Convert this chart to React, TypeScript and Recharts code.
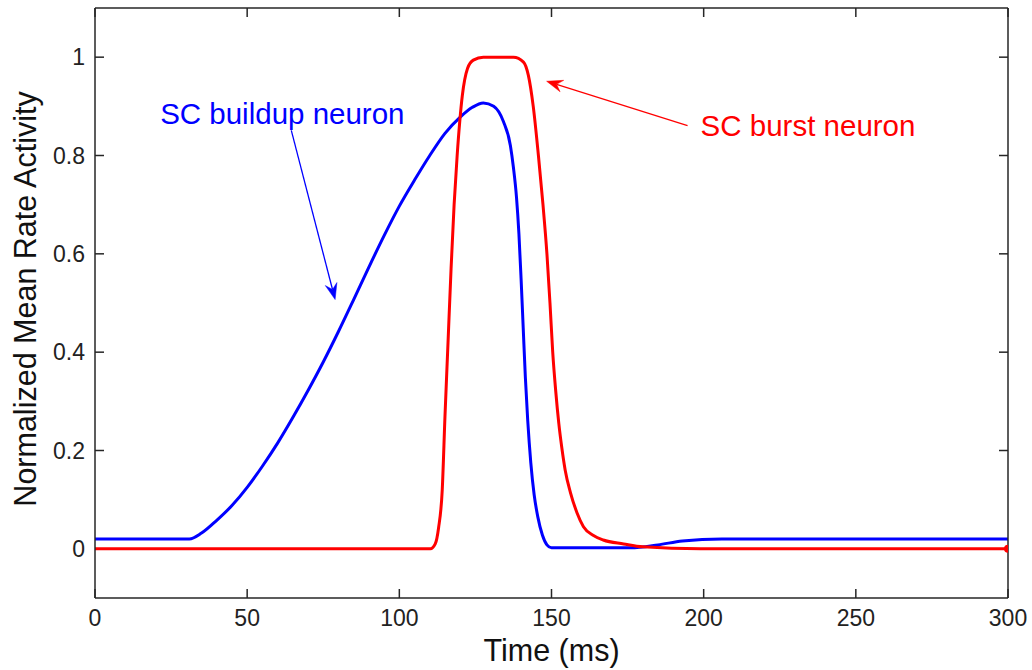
import React from 'react';
import { LineChart, Line, XAxis, YAxis, ReferenceLine, ReferenceDot } from 'recharts';

const xTicks = [0, 50, 100, 150, 200, 250, 300];
const yTicks = [0, 0.2, 0.4, 0.6, 0.8, 1];

const buildupTime = [0, 31, 35, 40, 45, 50, 55, 60, 65, 70, 75, 80, 85, 90, 95, 100, 105, 110, 115, 120, 124, 127.6, 131, 134.2, 136.5, 137.5, 138.5, 139.3, 140, 140.7, 141.4, 142.2, 143.2, 144.3, 145.5, 147, 148.5, 150, 176, 185, 193, 206, 300];
const buildupRate = [0.02, 0.02, 0.032, 0.058, 0.088, 0.125, 0.168, 0.215, 0.267, 0.322, 0.38, 0.442, 0.507, 0.573, 0.637, 0.697, 0.75, 0.8, 0.845, 0.878, 0.898, 0.907, 0.9, 0.869, 0.82, 0.775, 0.715, 0.64, 0.55, 0.45, 0.35, 0.26, 0.175, 0.11, 0.065, 0.028, 0.008, 0.002, 0.002, 0.008, 0.016, 0.02, 0.02];

const burstTime = [0, 110.2, 111.8, 112.9, 114.1, 115, 116, 117, 118, 119, 120.7, 122.4, 124.3, 127.6, 137.5, 140.8, 142.4, 144, 145.7, 147.2, 148.5, 149.5, 150.4, 151.4, 152.4, 153.4, 154.5, 156.2, 158.4, 160.5, 163.8, 167, 173.7, 180, 199, 300];
const burstRate = [0, 0, 0.01, 0.043, 0.12, 0.27, 0.42, 0.57, 0.7, 0.8, 0.922, 0.977, 0.994, 1, 1, 0.99, 0.963, 0.9, 0.8, 0.7, 0.6, 0.5, 0.4, 0.32, 0.255, 0.205, 0.16, 0.115, 0.073, 0.045, 0.027, 0.018, 0.01, 0.004, 0, 0];

const buildupLabel = { text: 'SC buildup neuron', t: 21.4, v: 0.865 };
const burstLabel = { text: 'SC burst neuron', t: 199, v: 0.84 };
const buildupArrow = [{ x: 64.5, y: 0.851 }, { x: 78.9, y: 0.507 }];
const burstArrow = [{ x: 194.7, y: 0.861 }, { x: 148.4, y: 0.951 }];

const buildupData = buildupTime.map((t, i) => ({ t, v: buildupRate[i] }));
const burstData = burstTime.map((t, i) => ({ t, v: burstRate[i] }));

const FONT = '"Liberation Sans", Arial, sans-serif';
const AXIS = '#262626';
const BLUE = '#0000ff';
const RED = '#ff0000';
const TICK_LEN = 9;

const arrowShape = (color: string) => (p: any) => {
  const { x1, y1, x2, y2 } = p;
  const dx = x2 - x1;
  const dy = y2 - y1;
  const len = Math.sqrt(dx * dx + dy * dy) || 1;
  const ux = dx / len;
  const uy = dy / len;
  const L = 16;
  const W = 6;
  const bx = x2 - ux * L;
  const by = y2 - uy * L;
  const nx = x2 - ux * L * 0.65;
  const ny = y2 - uy * L * 0.65;
  const pts = `${x2},${y2} ${bx - uy * W},${by + ux * W} ${nx},${ny} ${bx + uy * W},${by - ux * W}`;
  return (
    <g>
      <line x1={x1} y1={y1} x2={nx} y2={ny} stroke={color} strokeWidth={1.3} />
      <polygon points={pts} fill={color} stroke={color} strokeWidth={0.5} />
    </g>
  );
};

// inward tick marks at both ends of a vertical reference line
const xTickShape = (p: any) => {
  const top = Math.min(p.y1, p.y2);
  const bottom = Math.max(p.y1, p.y2);
  return (
    <g>
      <line x1={p.x1} y1={top} x2={p.x1} y2={top + TICK_LEN} stroke={AXIS} strokeWidth={1.5} />
      <line x1={p.x1} y1={bottom} x2={p.x1} y2={bottom - TICK_LEN} stroke={AXIS} strokeWidth={1.5} />
    </g>
  );
};

// inward tick marks at both ends of a horizontal reference line
const yTickShape = (p: any) => {
  const left = Math.min(p.x1, p.x2);
  const right = Math.max(p.x1, p.x2);
  return (
    <g>
      <line x1={left} y1={p.y1} x2={left + TICK_LEN} y2={p.y1} stroke={AXIS} strokeWidth={1.5} />
      <line x1={right} y1={p.y1} x2={right - TICK_LEN} y2={p.y1} stroke={AXIS} strokeWidth={1.5} />
    </g>
  );
};

const textShape = (label: string, color: string) => (p: any) => (
  <text x={p.cx} y={p.cy} fill={color} fontSize={29.5} fontFamily={FONT} textAnchor="start">
    {label}
  </text>
);

const fmt = (v: number) => String(Math.round(v * 10) / 10);

const BottomTick = (p: any) => (
  <text x={p.x} y={p.y + 28} textAnchor="middle" fontSize={23} fontFamily={FONT} fill="#222">
    {fmt(p.payload.value)}
  </text>
);

const LeftTick = (p: any) => (
  <text x={p.x - 10} y={p.y} textAnchor="end" dominantBaseline="central" fontSize={23} fontFamily={FONT} fill="#222">
    {fmt(p.payload.value)}
  </text>
);

const XLabel = (p: any) => {
  const vb = p.viewBox;
  return (
    <text x={vb.x + vb.width / 2} y={vb.y + vb.height - 9} textAnchor="middle" fontSize={30.5} fontFamily={FONT} fill="#111">
      Time (ms)
    </text>
  );
};

const YLabel = (p: any) => {
  const vb = p.viewBox;
  const cx = vb.x + 25;
  const cy = vb.y + vb.height / 2 - 4;
  return (
    <text x={cx} y={cy} transform={`rotate(-90, ${cx}, ${cy})`} textAnchor="middle" dominantBaseline="central" fontSize={30.5} fontFamily={FONT} fill="#111">
      Normalized Mean Rate Activity
    </text>
  );
};

const burstDot = (p: any) =>
  p.index === burstData.length - 1 ? (
    <circle key={`d${p.index}`} cx={p.cx} cy={p.cy} r={4} fill={RED} />
  ) : (
    <g key={`d${p.index}`} />
  );

export default function App() {
  return (
    <div style={{ position: 'absolute', left: 0, top: 0, background: '#fff' }}>
      <LineChart width={1032} height={670} margin={{ top: 0, right: 0, bottom: 0, left: 0 }}>
        <XAxis
          xAxisId="b"
          dataKey="t"
          type="number"
          domain={[0, 300]}
          ticks={xTicks}
          interval={0}
          allowDataOverflow
          height={72}
          tickSize={0}
          tickMargin={0}
          tickLine={false}
          stroke={AXIS}
          strokeWidth={1.5}
          tick={BottomTick}
          label={{ content: XLabel }}
        />
        <XAxis
          xAxisId="top"
          orientation="top"
          dataKey="t"
          type="number"
          domain={[0, 300]}
          ticks={xTicks}
          height={8}
          tickLine={false}
          stroke={AXIS}
          strokeWidth={1.5}
          tick={false}
        />
        <YAxis
          yAxisId="l"
          type="number"
          domain={[-0.1, 1.1]}
          ticks={yTicks}
          interval={0}
          allowDataOverflow
          width={95}
          tickSize={0}
          tickMargin={0}
          tickLine={false}
          stroke={AXIS}
          strokeWidth={1.5}
          tick={LeftTick}
          label={{ content: YLabel }}
        />
        <YAxis
          yAxisId="r"
          orientation="right"
          type="number"
          domain={[-0.1, 1.1]}
          ticks={yTicks}
          width={24}
          tickLine={false}
          stroke={AXIS}
          strokeWidth={1.5}
          tick={false}
        />
        {xTicks.map((t) => (
          <ReferenceLine key={`xt${t}`} xAxisId="b" yAxisId="l" x={t} ifOverflow="visible" shape={xTickShape} />
        ))}
        {yTicks.map((v) => (
          <ReferenceLine key={`yt${v}`} xAxisId="b" yAxisId="l" y={v} ifOverflow="visible" shape={yTickShape} />
        ))}
        <Line
          xAxisId="b"
          yAxisId="l"
          data={buildupData}
          dataKey="v"
          type="monotone"
          stroke={BLUE}
          strokeWidth={3}
          dot={false}
          isAnimationActive={false}
        />
        <Line
          xAxisId="b"
          yAxisId="l"
          data={burstData}
          dataKey="v"
          type="monotone"
          stroke={RED}
          strokeWidth={3}
          dot={burstDot}
          isAnimationActive={false}
        />
        <ReferenceLine xAxisId="b" yAxisId="l" segment={buildupArrow} ifOverflow="visible" shape={arrowShape(BLUE)} />
        <ReferenceLine xAxisId="b" yAxisId="l" segment={burstArrow} ifOverflow="visible" shape={arrowShape(RED)} />
        <ReferenceDot xAxisId="b" yAxisId="l" x={buildupLabel.t} y={buildupLabel.v} ifOverflow="visible" shape={textShape(buildupLabel.text, BLUE)} />
        <ReferenceDot xAxisId="b" yAxisId="l" x={burstLabel.t} y={burstLabel.v} ifOverflow="visible" shape={textShape(burstLabel.text, RED)} />
      </LineChart>
    </div>
  );
}
